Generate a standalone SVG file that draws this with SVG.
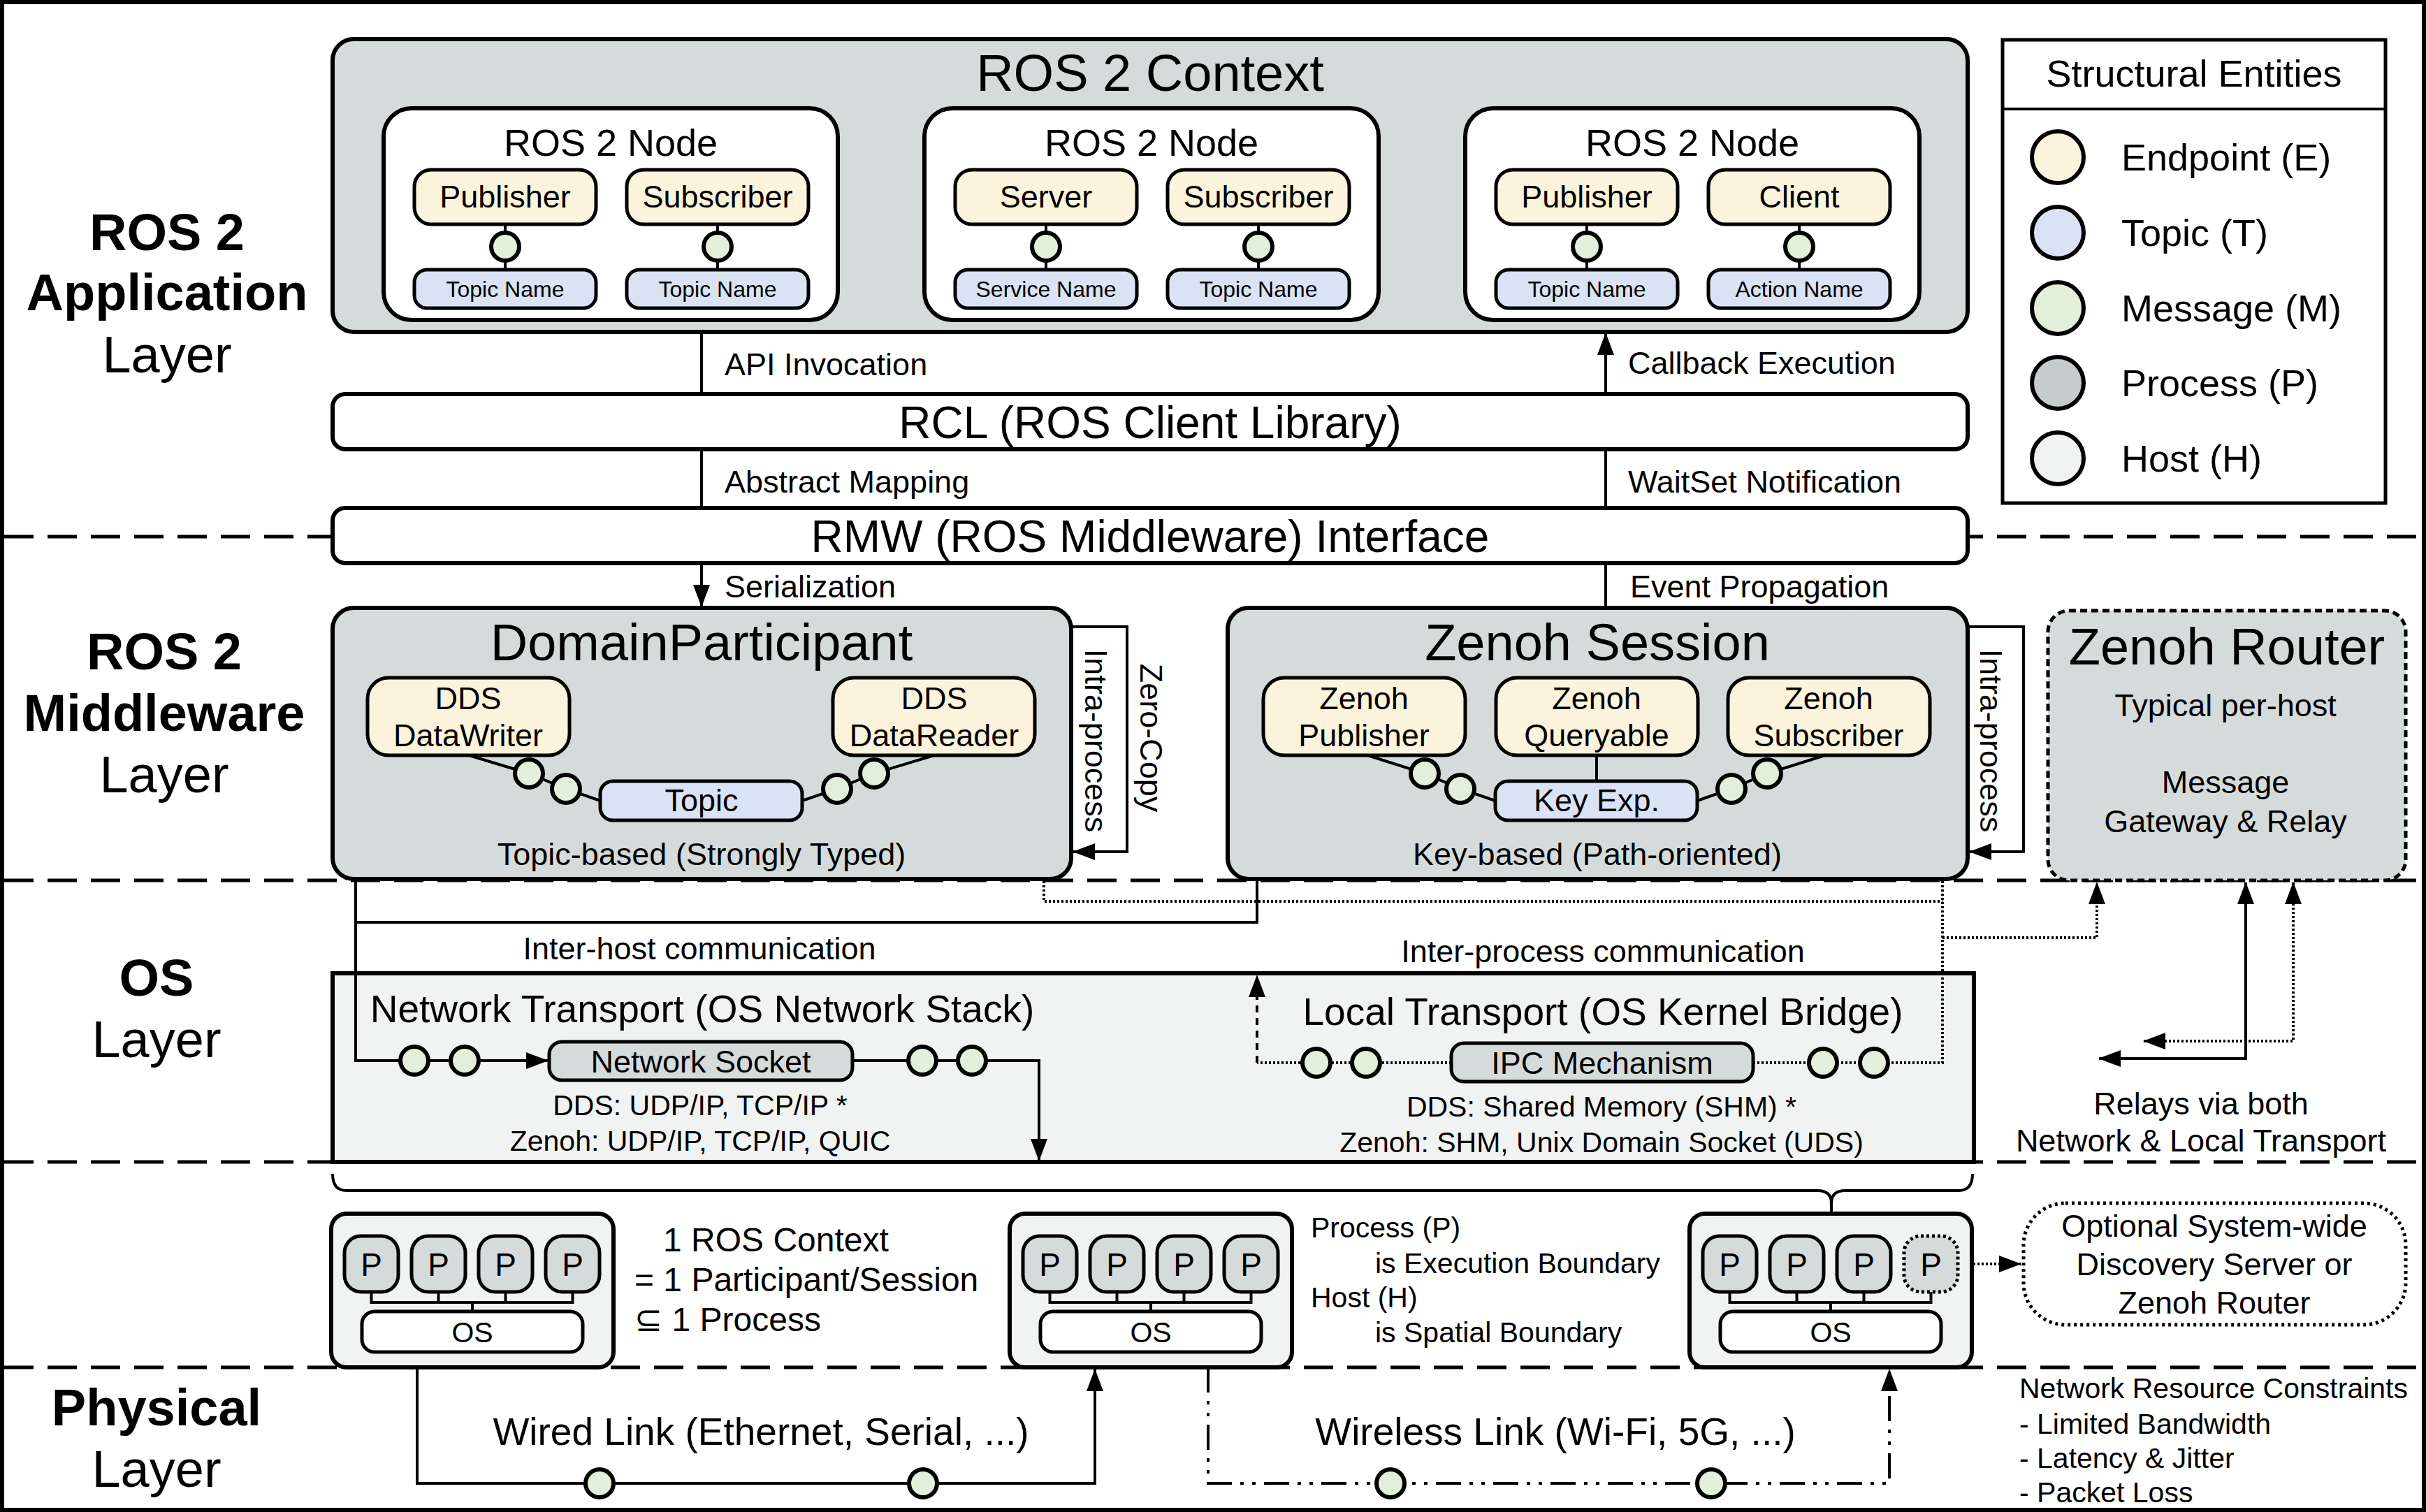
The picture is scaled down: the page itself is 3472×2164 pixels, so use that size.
<svg xmlns="http://www.w3.org/2000/svg" width="3472" height="2164" viewBox="0 0 3472 2164">
<style>
text{font-family:"Liberation Sans",Arial,"DejaVu Sans",sans-serif;fill:#000}
.m{text-anchor:middle}
.bd{font-weight:bold}
.f74{font-size:74px}.f64{font-size:64px}.f55{font-size:55px}.f54{font-size:54px}.f52{font-size:52px}.f48{font-size:48px}.f46{font-size:46px}.f45{font-size:45px}.f41{font-size:41px}.f32{font-size:32px}
.box{stroke:#000;stroke-width:6}
.gr{fill:#D5DBDB}
.wh{fill:#fff}
.hs{fill:#F1F3F2}
.ep{fill:#FCF3DC;stroke:#000;stroke-width:5}
.tp{fill:#DAE3F3;stroke:#000;stroke-width:5}
.pr{fill:#D5DBDB;stroke:#000;stroke-width:5}
.msg{fill:#E2EFDA;stroke:#000;stroke-width:6}
.ln{fill:none;stroke:#000;stroke-width:4}
.dot{fill:none;stroke:#000;stroke-width:4;stroke-dasharray:3 3}
.dsh{fill:none;stroke:#000;stroke-width:4;stroke-dasharray:10 8}
.dd{fill:none;stroke:#000;stroke-width:4;stroke-dasharray:36 12 5 12 5 12}
.div{fill:none;stroke:#000;stroke-width:5;stroke-dasharray:42 20}
</style>
<defs>
<marker id="ah" markerUnits="userSpaceOnUse" markerWidth="32" markerHeight="24" viewBox="0 0 32 24" refX="31" refY="12" orient="auto-start-reverse"><path d="M0,0 L32,12 L0,24 z" fill="#000"/></marker>
</defs>
<rect x="0" y="0" width="3472" height="2164" fill="#fff"/>

<g id="layer-dividers">
<line class="div" x1="6" y1="768" x2="3466" y2="768"/>
<line class="div" x1="6" y1="1260" x2="3466" y2="1260"/>
<line class="div" x1="6" y1="1663" x2="3466" y2="1663"/>
<line class="div" x1="6" y1="1957" x2="3466" y2="1957"/>
</g>

<g id="layer-labels">
<text class="f74 m bd" x="239" y="358">ROS 2</text>
<text class="f74 m bd" x="239" y="444">Application</text>
<text class="f74 m" x="239" y="533">Layer</text>
<text class="f74 m bd" x="235" y="958">ROS 2</text>
<text class="f74 m bd" x="235" y="1046">Middleware</text>
<text class="f74 m" x="235" y="1134">Layer</text>
<text class="f74 m bd" x="224" y="1425">OS</text>
<text class="f74 m" x="224" y="1513">Layer</text>
<text class="f74 m bd" x="224" y="2040">Physical</text>
<text class="f74 m" x="224" y="2128">Layer</text>
</g>

<g id="ros2-context">
<rect class="box gr" x="476" y="56" width="2340" height="419" rx="30"/>
<text class="f74 m" x="1646" y="130">ROS 2 Context</text>
</g>

<g id="node-1">
<rect class="box wh" x="549" y="155" width="650" height="303" rx="40"/>
<text class="f54 m" x="874" y="223">ROS 2 Node</text>
<line class="ln" x1="723" y1="321" x2="723" y2="386"/>
<line class="ln" x1="1027" y1="321" x2="1027" y2="386"/>
<rect class="ep" x="593" y="243" width="260" height="78" rx="24"/>
<text class="f45 m" x="723" y="297">Publisher</text>
<rect class="ep" x="897" y="243" width="260" height="78" rx="24"/>
<text class="f45 m" x="1027" y="297">Subscriber</text>
<circle class="msg" cx="723" cy="353" r="20"/>
<circle class="msg" cx="1027" cy="353" r="20"/>
<rect class="tp" x="593" y="386" width="260" height="55" rx="18"/>
<text class="f32 m" x="723" y="425">Topic Name</text>
<rect class="tp" x="897" y="386" width="260" height="55" rx="18"/>
<text class="f32 m" x="1027" y="425">Topic Name</text>
</g>

<g id="node-2">
<rect class="box wh" x="1323" y="155" width="650" height="303" rx="40"/>
<text class="f54 m" x="1648" y="223">ROS 2 Node</text>
<line class="ln" x1="1497" y1="321" x2="1497" y2="386"/>
<line class="ln" x1="1801" y1="321" x2="1801" y2="386"/>
<rect class="ep" x="1367" y="243" width="260" height="78" rx="24"/>
<text class="f45 m" x="1497" y="297">Server</text>
<rect class="ep" x="1671" y="243" width="260" height="78" rx="24"/>
<text class="f45 m" x="1801" y="297">Subscriber</text>
<circle class="msg" cx="1497" cy="353" r="20"/>
<circle class="msg" cx="1801" cy="353" r="20"/>
<rect class="tp" x="1367" y="386" width="260" height="55" rx="18"/>
<text class="f32 m" x="1497" y="425">Service Name</text>
<rect class="tp" x="1671" y="386" width="260" height="55" rx="18"/>
<text class="f32 m" x="1801" y="425">Topic Name</text>
</g>

<g id="node-3">
<rect class="box wh" x="2097" y="155" width="650" height="303" rx="40"/>
<text class="f54 m" x="2422" y="223">ROS 2 Node</text>
<line class="ln" x1="2271" y1="321" x2="2271" y2="386"/>
<line class="ln" x1="2575" y1="321" x2="2575" y2="386"/>
<rect class="ep" x="2141" y="243" width="260" height="78" rx="24"/>
<text class="f45 m" x="2271" y="297">Publisher</text>
<rect class="ep" x="2445" y="243" width="260" height="78" rx="24"/>
<text class="f45 m" x="2575" y="297">Client</text>
<circle class="msg" cx="2271" cy="353" r="20"/>
<circle class="msg" cx="2575" cy="353" r="20"/>
<rect class="tp" x="2141" y="386" width="260" height="55" rx="18"/>
<text class="f32 m" x="2271" y="425">Topic Name</text>
<rect class="tp" x="2445" y="386" width="260" height="55" rx="18"/>
<text class="f32 m" x="2575" y="425">Action Name</text>
</g>

<g id="legend">
<rect x="2866" y="57" width="548" height="663" fill="#fff" stroke="#000" stroke-width="5"/>
<line x1="2866" y1="156" x2="3414" y2="156" stroke="#000" stroke-width="4"/>
<text class="f54 m" x="3140" y="124">Structural Entities</text>
<circle cx="2945" cy="225" r="37" fill="#FCF3DC" stroke="#000" stroke-width="6"/>
<text class="f54" x="3036" y="244">Endpoint (E)</text>
<circle cx="2945" cy="333" r="37" fill="#DAE3F3" stroke="#000" stroke-width="6"/>
<text class="f54" x="3036" y="352">Topic (T)</text>
<circle cx="2945" cy="441" r="37" fill="#E2EFDA" stroke="#000" stroke-width="6"/>
<text class="f54" x="3036" y="460">Message (M)</text>
<circle cx="2945" cy="548" r="37" fill="#C6CCCE" stroke="#000" stroke-width="6"/>
<text class="f54" x="3036" y="567">Process (P)</text>
<circle cx="2945" cy="656" r="37" fill="#F1F3F2" stroke="#000" stroke-width="6"/>
<text class="f54" x="3036" y="675">Host (H)</text>
</g>

<g id="rcl">
<rect class="box wh" x="476" y="564" width="2340" height="79" rx="18"/>
<text class="f64 m" x="1646" y="627">RCL (ROS Client Library)</text>
</g>

<g id="rmw">
<rect class="box wh" x="476" y="727" width="2340" height="79" rx="18"/>
<text class="f64 m" x="1646" y="790">RMW (ROS Middleware) Interface</text>
</g>

<g id="domain-participant">
<rect class="box gr" x="476" y="870" width="1057" height="388" rx="30"/>
<text class="f74 m" x="1004" y="945">DomainParticipant</text>
<polyline class="ln" points="671,1081 757,1107 810,1129 859,1146"/>
<polyline class="ln" points="1148,1146 1198,1129 1251,1107 1337,1081"/>
<rect class="ep" x="526" y="970" width="289" height="111" rx="30"/>
<text class="f45 m" x="670" y="1015">DDS</text>
<text class="f45 m" x="670" y="1068">DataWriter</text>
<rect class="ep" x="1192" y="970" width="289" height="111" rx="30"/>
<text class="f45 m" x="1337" y="1015">DDS</text>
<text class="f45 m" x="1337" y="1068">DataReader</text>
<rect class="tp" x="859" y="1118" width="289" height="56" rx="18"/>
<text class="f45 m" x="1004" y="1161">Topic</text>
<circle class="msg" cx="757" cy="1107" r="20"/>
<circle class="msg" cx="810" cy="1129" r="20"/>
<circle class="msg" cx="1198" cy="1129" r="20"/>
<circle class="msg" cx="1251" cy="1107" r="20"/>
<text class="f45 m" x="1004" y="1238">Topic-based (Strongly Typed)</text>
</g>

<g id="zenoh-session">
<rect class="box gr" x="1757" y="870" width="1059" height="388" rx="30"/>
<text class="f74 m" x="2286" y="945">Zenoh Session</text>
<polyline class="ln" points="1957,1081 2039,1107 2090,1129 2140,1146"/>
<polyline class="ln" points="2429,1146 2478,1129 2529,1107 2612,1081"/>
<line class="ln" x1="2285" y1="1081" x2="2285" y2="1118"/>
<rect class="ep" x="1808" y="970" width="289" height="111" rx="30"/>
<text class="f45 m" x="1952" y="1015">Zenoh</text>
<text class="f45 m" x="1952" y="1068">Publisher</text>
<rect class="ep" x="2141" y="970" width="289" height="111" rx="30"/>
<text class="f45 m" x="2285" y="1015">Zenoh</text>
<text class="f45 m" x="2285" y="1068">Queryable</text>
<rect class="ep" x="2473" y="970" width="289" height="111" rx="30"/>
<text class="f45 m" x="2617" y="1015">Zenoh</text>
<text class="f45 m" x="2617" y="1068">Subscriber</text>
<rect class="tp" x="2140" y="1118" width="289" height="56" rx="18"/>
<text class="f45 m" x="2285" y="1161">Key Exp.</text>
<circle class="msg" cx="2039" cy="1107" r="20"/>
<circle class="msg" cx="2090" cy="1129" r="20"/>
<circle class="msg" cx="2478" cy="1129" r="20"/>
<circle class="msg" cx="2529" cy="1107" r="20"/>
<text class="f45 m" x="2286" y="1238">Key-based (Path-oriented)</text>
</g>

<g id="zenoh-router">
<rect x="2931" y="874" width="512" height="386" rx="30" fill="#D5DBDB" stroke="#000" stroke-width="5" stroke-dasharray="10 6"/>
<text class="f74 m" x="3187" y="951">Zenoh Router</text>
<text class="f45 m" x="3185" y="1025">Typical per-host</text>
<text class="f45 m" x="3185" y="1135">Message</text>
<text class="f45 m" x="3185" y="1191">Gateway &amp; Relay</text>
</g>

<g id="os-transport">
<rect x="476" y="1393" width="2349" height="270" fill="#F1F3F2" stroke="#000" stroke-width="6"/>
<text class="f55 m" x="1005" y="1463">Network Transport (OS Network Stack)</text>
<text class="f55 m" x="2294" y="1467">Local Transport (OS Kernel Bridge)</text>
<text class="f41 m" x="1002" y="1596">DDS: UDP/IP, TCP/IP *</text>
<text class="f41 m" x="1002" y="1647">Zenoh: UDP/IP, TCP/IP, QUIC</text>
<text class="f41 m" x="2292" y="1598">DDS: Shared Memory (SHM) *</text>
<text class="f41 m" x="2292" y="1649">Zenoh: SHM, Unix Domain Socket (UDS)</text>
</g>

<g id="connectors">
<line class="ln" x1="1004" y1="475" x2="1004" y2="564"/>
<path class="ln" d="M2298,564 V477" marker-end="url(#ah)"/>
<line class="ln" x1="1004" y1="643" x2="1004" y2="727"/>
<line class="ln" x1="2298" y1="643" x2="2298" y2="727"/>
<path class="ln" d="M1004,806 V868" marker-end="url(#ah)"/>
<line class="ln" x1="2298" y1="806" x2="2298" y2="870"/>
<path class="ln" d="M1533,897 H1613 V1219 H1536" marker-end="url(#ah)"/>
<path class="ln" d="M2816,897 H2896 V1219 H2819" marker-end="url(#ah)"/>
<path class="ln" d="M509,1258 V1518 H784" marker-end="url(#ah)"/>
<path class="ln" d="M1799,1258 V1320 H509"/>
<path class="ln" d="M1220,1518 H1487 V1661" marker-end="url(#ah)"/>
<path class="dot" d="M1494,1261 V1290 H2780"/>
<path class="dot" d="M2780,1261 V1521 H2509"/>
<path class="dot" d="M2077,1521 H1799"/>
<path class="dsh" d="M1799,1521 V1396" marker-end="url(#ah)"/>
<path class="dot" d="M2780,1342 H3001 V1263" marker-end="url(#ah)"/>
<path class="ln" d="M3004,1515 H3214 V1263" marker-start="url(#ah)" marker-end="url(#ah)"/>
<path class="dot" d="M3068,1490 H3282 V1263" marker-start="url(#ah)" marker-end="url(#ah)"/>
<rect class="pr" x="786" y="1491" width="434" height="55" rx="18"/>
<text class="f45 m" x="1003" y="1535">Network Socket</text>
<rect class="pr" x="2077" y="1493" width="432" height="55" rx="18"/>
<text class="f45 m" x="2293" y="1537">IPC Mechanism</text>
<circle class="msg" cx="593" cy="1518" r="20"/>
<circle class="msg" cx="665" cy="1518" r="20"/>
<circle class="msg" cx="1320" cy="1518" r="20"/>
<circle class="msg" cx="1391" cy="1518" r="20"/>
<circle class="msg" cx="1884" cy="1521" r="20"/>
<circle class="msg" cx="1955" cy="1521" r="20"/>
<circle class="msg" cx="2609" cy="1521" r="20"/>
<circle class="msg" cx="2682" cy="1521" r="20"/>
<path class="ln" d="M476,1680 Q476,1704 496,1704 H2601 Q2621,1704 2621,1722 Q2621,1704 2641,1704 H2803 Q2823,1704 2823,1680"/>
<line class="ln" x1="2621" y1="1718" x2="2621" y2="1737"/>
<path class="dot" d="M2806,1809 H2892" marker-end="url(#ah)"/>
<path class="ln" d="M597,1957 V2123 H1567 V1960" marker-end="url(#ah)"/>
<path class="dd" d="M1729,1957 V2123 H2704 V1960" marker-end="url(#ah)"/>
<circle class="msg" cx="858" cy="2123" r="20"/>
<circle class="msg" cx="1321" cy="2123" r="20"/>
<circle class="msg" cx="1990" cy="2123" r="20"/>
<circle class="msg" cx="2449" cy="2123" r="20"/>
</g>

<g id="connector-labels">
<text class="f45" x="1037" y="537">API Invocation</text>
<text class="f45" x="2330" y="535">Callback Execution</text>
<text class="f45" x="1037" y="705">Abstract Mapping</text>
<text class="f45" x="2330" y="705">WaitSet Notification</text>
<text class="f45" x="1037" y="855">Serialization</text>
<text class="f45" x="2333" y="855">Event Propagation</text>
<text class="f45 m" transform="rotate(90 1553 1060)" x="1553" y="1060">Intra-process</text>
<text class="f45 m" transform="rotate(90 1632 1056)" x="1632" y="1056">Zero-Copy</text>
<text class="f45 m" transform="rotate(90 2834 1060)" x="2834" y="1060">Intra-process</text>
<text class="f45 m" x="1001" y="1373">Inter-host communication</text>
<text class="f45 m" x="2294" y="1377">Inter-process communication</text>
<text class="f45 m" x="3150" y="1595">Relays via both</text>
<text class="f45 m" x="3150" y="1648">Network &amp; Local Transport</text>
<text class="f55 m" x="1089" y="2068">Wired Link (Ethernet, Serial, ...)</text>
<text class="f55 m" x="2226" y="2068">Wireless Link (Wi-Fi, 5G, ...)</text>
</g>

<g id="host-1">
<rect class="box hs" x="474" y="1737" width="404" height="220" rx="22"/>
<path class="ln" d="M531.5,1849 V1864 H819.5 V1849 M627.5,1849 V1864 M723.5,1849 V1864 M676,1864 V1877"/>
<rect class="pr" x="493" y="1769" width="77" height="80" rx="24"/>
<rect class="pr" x="589" y="1769" width="77" height="80" rx="24"/>
<rect class="pr" x="685" y="1769" width="77" height="80" rx="24"/>
<rect class="pr" x="781" y="1769" width="77" height="80" rx="24"/>
<text class="f46 m" x="531.5" y="1826">P</text>
<text class="f46 m" x="627.5" y="1826">P</text>
<text class="f46 m" x="723.5" y="1826">P</text>
<text class="f46 m" x="819.5" y="1826">P</text>
<rect x="518" y="1877" width="316" height="58" rx="18" fill="#fff" stroke="#000" stroke-width="5"/>
<text class="f41 m" x="676" y="1921">OS</text>
</g>

<g id="host-2">
<rect class="box hs" x="1445" y="1737" width="404" height="220" rx="22"/>
<path class="ln" d="M1502.5,1849 V1864 H1790.5 V1849 M1598.5,1849 V1864 M1694.5,1849 V1864 M1647,1864 V1877"/>
<rect class="pr" x="1464" y="1769" width="77" height="80" rx="24"/>
<rect class="pr" x="1560" y="1769" width="77" height="80" rx="24"/>
<rect class="pr" x="1656" y="1769" width="77" height="80" rx="24"/>
<rect class="pr" x="1752" y="1769" width="77" height="80" rx="24"/>
<text class="f46 m" x="1502.5" y="1826">P</text>
<text class="f46 m" x="1598.5" y="1826">P</text>
<text class="f46 m" x="1694.5" y="1826">P</text>
<text class="f46 m" x="1790.5" y="1826">P</text>
<rect x="1489" y="1877" width="316" height="58" rx="18" fill="#fff" stroke="#000" stroke-width="5"/>
<text class="f41 m" x="1647" y="1921">OS</text>
</g>

<g id="host-3">
<rect class="box hs" x="2418" y="1737" width="404" height="220" rx="22"/>
<path class="ln" d="M2475.5,1849 V1864 H2763.5 V1849 M2571.5,1849 V1864 M2667.5,1849 V1864 M2620,1864 V1877"/>
<rect class="pr" x="2437" y="1769" width="77" height="80" rx="24"/>
<rect class="pr" x="2533" y="1769" width="77" height="80" rx="24"/>
<rect class="pr" x="2629" y="1769" width="77" height="80" rx="24"/>
<rect x="2725" y="1769" width="77" height="80" rx="24" fill="#D5DBDB" stroke="#000" stroke-width="5" stroke-dasharray="4 4"/>
<text class="f46 m" x="2475.5" y="1826">P</text>
<text class="f46 m" x="2571.5" y="1826">P</text>
<text class="f46 m" x="2667.5" y="1826">P</text>
<text class="f46 m" x="2763.5" y="1826">P</text>
<rect x="2462" y="1877" width="316" height="58" rx="18" fill="#fff" stroke="#000" stroke-width="5"/>
<text class="f41 m" x="2620" y="1921">OS</text>
</g>

<g id="optional-discovery">
<rect x="2896" y="1722" width="547" height="174" rx="60" fill="#fff" stroke="#000" stroke-width="5" stroke-dasharray="4 5"/>
<text class="f45 m" x="3169" y="1770">Optional System-wide</text>
<text class="f45 m" x="3169" y="1825">Discovery Server or</text>
<text class="f45 m" x="3169" y="1880">Zenoh Router</text>
</g>

<g id="notes">
<text class="f48" x="949" y="1791">1 ROS Context</text>
<text class="f48" x="908" y="1848">= 1 Participant/Session</text>
<text class="f48" x="908" y="1905">⊆ 1 Process</text>
<text class="f41" x="1876" y="1771">Process (P)</text>
<text class="f41" x="1968" y="1822">is Execution Boundary</text>
<text class="f41" x="1876" y="1871">Host (H)</text>
<text class="f41" x="1968" y="1921">is Spatial Boundary</text>
<text class="f41" x="2890" y="2001">Network Resource Constraints</text>
<text class="f41" x="2890" y="2052">- Limited Bandwidth</text>
<text class="f41" x="2890" y="2101">- Latency &amp; Jitter</text>
<text class="f41" x="2890" y="2150">- Packet Loss</text>
</g>

<rect x="3" y="3" width="3466" height="2158" fill="none" stroke="#000" stroke-width="6"/>
</svg>
